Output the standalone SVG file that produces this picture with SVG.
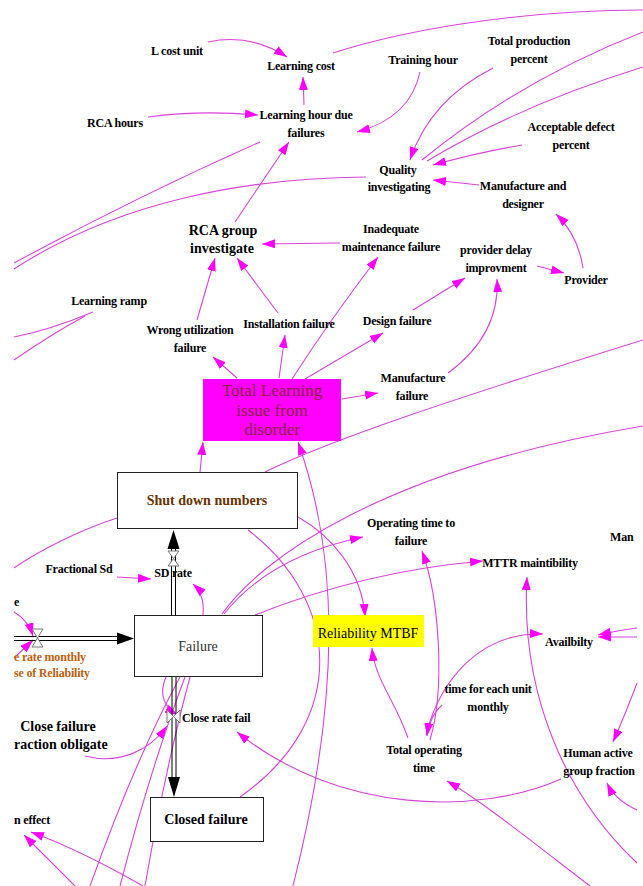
<svg xmlns="http://www.w3.org/2000/svg" width="643" height="886" viewBox="0 0 643 886">
  <defs>
    <marker id="ah" markerUnits="userSpaceOnUse" markerWidth="14" markerHeight="10" refX="13" refY="4.5" orient="auto">
      <path d="M0,0 L13,4.5 L0,9 Z" fill="#ff00ff"/>
    </marker>
    <style>
      .c { fill: none; stroke: #d844d8; stroke-width: 1.1; }
      .a { marker-end: url(#ah); }
      .t { font-family: "Liberation Serif", "Times New Roman", serif; font-weight: bold; font-size: 12px; letter-spacing: -0.2px; fill: #000; text-anchor: middle; }
      .t14 { font-size: 14px; letter-spacing: 0; }
      .st { text-anchor: start; }
      .box { fill: #fff; stroke: #222; stroke-width: 1; }
      .reg { font-family: "Liberation Serif", "Times New Roman", serif; font-weight: normal; text-anchor: middle; }
      .pipe { fill: none; stroke: #000; stroke-width: 1; }
      .valve { fill: #fff; stroke: #777; stroke-width: 1; }
      .orange { fill: #c06010; }
    </style>
  </defs>

  <!-- causal links -->
  <g id="connectors">
    <path class="c a" d="M208,42 Q250,33 287,57"/>
    <path class="c a" d="M304,105 L303,77"/>
    <path class="c a" d="M148,117 Q200,110 258,115"/>
    <path class="c" d="M333,53 C420,25 540,10 643,10"/>
    <path class="c a" d="M420,72 Q410,118 357,132"/>
    <path class="c a" d="M493,68 Q430,100 410,160"/>
    <path class="c" d="M422,160 Q520,80 643,32"/>
    <path class="c" d="M427,161 Q520,105 643,67"/>
    <path class="c a" d="M522,145 Q480,152 433,165"/>
    <path class="c a" d="M479,185 L433,180"/>
    <path class="c a" d="M583,268 Q578,235 556,214"/>
    <path class="c a" d="M537,266 L564,273"/>
    <path class="c" d="M366,177 C250,178 120,200 14,269"/>
    <path class="c" d="M260,142 Q140,195 14,263"/>
    <path class="c a" d="M235,222 L289,142"/>
    <path class="c" d="M93,312 Q50,330 14,337"/>
    <path class="c" d="M85,316 Q50,335 14,360"/>
    <path class="c a" d="M197,320 L215,258"/>
    <path class="c a" d="M278,313 L237,258"/>
    <path class="c a" d="M340,243 L262,244"/>
    <path class="c a" d="M237,378 L213,357"/>
    <path class="c a" d="M279,378 L285,335"/>
    <path class="c a" d="M292,379 Q330,320 378,257"/>
    <path class="c a" d="M305,379 L383,333"/>
    <path class="c a" d="M413,310 L465,278"/>
    <path class="c a" d="M448,373 Q500,335 497,279"/>
    <path class="c a" d="M342,399 L378,393"/>
    <path class="c a" d="M200,472 L203,442"/>
    <path class="c a" d="M293,886 C340,700 340,560 298,442"/>
    <path class="c" d="M265,472 C330,440 450,400 643,340"/>
    <path class="c a" d="M298,517 C330,535 362,570 365,617"/>
    <path class="c" d="M248,530 C340,600 350,720 240,797"/>
    <path class="c" d="M117,518 C80,530 40,550 14,568"/>
    <path class="c" d="M222,614 C260,560 380,470 643,426"/>
    <path class="c a" d="M224,614 C255,575 300,550 363,537"/>
    <path class="c a" d="M255,615 C300,597 380,570 483,561"/>
    <path class="c a" d="M203,615 Q205,595 193,584"/>
    <path class="c a" d="M117,577 L151,579"/>
    <path class="c a" d="M166,677 C158,695 165,708 178,715"/>
    <path class="c a" d="M85,756 C120,765 150,750 167,726"/>
    <path class="c" d="M180,677 Q135,760 90,886"/>
    <path class="c" d="M185,677 Q150,770 120,886"/>
    <path class="c" d="M190,677 Q165,770 145,886"/>
    <path class="c a" d="M75,886 L24,835"/>
    <path class="c a" d="M143,886 Q80,850 31,832"/>
    <path class="c a" d="M14,612 Q28,620 33,636"/>
    <path class="c a" d="M14,658 L33,640"/>
    <path class="c a" d="M561,779 C480,815 340,815 237,732"/>
    <path class="c a" d="M408,738 C395,700 375,680 372,648"/>
    <path class="c a" d="M430,740 C445,690 440,600 422,551"/>
    <path class="c a" d="M426,735 C440,680 480,632 543,634"/>
    <path class="c a" d="M442,705 Q430,715 427,736"/>
    <path class="c a" d="M637,863 C570,800 520,700 527,577"/>
    <path class="c a" d="M637,683 Q625,715 613,742"/>
    <path class="c a" d="M637,810 Q615,800 607,783"/>
    <path class="c a" d="M637,628 Q615,631 598,635"/>
    <path class="c a" d="M637,637 L598,637"/>
    <path class="c a" d="M590,886 C530,840 480,800 447,781"/>
  </g>

  <!-- material flows -->
  <g id="flows">
    <path class="pipe" d="M14,636.5 H120 M14,640.5 H120"/>
    <path d="M117,632.5 L134,638.5 L117,644.5 Z" fill="#000"/>
    <path class="valve" d="M32,629 L43,629 L32,647 L43,647 Z"/>

    <path class="pipe" d="M171.5,548 V615 M175.5,548 V615"/>
    <path d="M173.5,530 L179.5,549 L167.5,549 Z" fill="#000"/>
    <path class="valve" d="M168,551 L179,551 L168,566 L179,566 Z"/>

    <path class="pipe" d="M172,676 V780 M176,676 V780"/>
    <path d="M168,777 L180,777 L174,797 Z" fill="#000"/>
    <path class="valve" d="M167,710 L167,723 L180,710 L180,723 Z"/>
  </g>

  <!-- stocks and highlighted variables -->
  <g id="total-learning">
    <rect x="203" y="379" width="138" height="62" fill="#ff00ff"/>
    <text class="reg" font-size="17" fill="#8a2444"><tspan x="272" y="396">Total Learning</tspan><tspan x="272" y="416">issue from</tspan><tspan x="272" y="435">disorder</tspan></text>
  </g>
  <g id="shut-down-numbers">
    <rect class="box" x="117.5" y="472.5" width="180" height="56"/>
    <text class="t t14" x="207" y="505" style="fill:#663300">Shut down numbers</text>
  </g>
  <g id="failure">
    <rect class="box" x="134.5" y="615.5" width="128" height="61"/>
    <text class="reg" x="198" y="651" font-size="14" fill="#333">Failure</text>
  </g>
  <g id="reliability-mtbf">
    <rect x="313" y="615" width="111" height="32" fill="#ffff00"/>
    <text class="reg" x="368" y="638" font-size="14" fill="#000">Reliability MTBF</text>
  </g>
  <g id="closed-failure">
    <rect class="box" x="150.5" y="797.5" width="113" height="44"/>
    <text class="t t14" x="206" y="824">Closed failure</text>
  </g>

  <!-- auxiliary variables -->
  <g id="l-cost-unit"><text class="t" x="177" y="55">L cost unit</text></g>
  <g id="learning-cost"><text class="t" x="301" y="70">Learning cost</text></g>
  <g id="rca-hours"><text class="t" x="115" y="127">RCA hours</text></g>
  <g id="learning-hour"><text class="t"><tspan x="306" y="119">Learning hour due</tspan><tspan x="306" y="137">failures</tspan></text></g>
  <g id="training-hour"><text class="t" x="423" y="64">Training hour</text></g>
  <g id="total-production"><text class="t"><tspan x="529" y="45">Total production</tspan><tspan x="529" y="63">percent</tspan></text></g>
  <g id="acceptable-defect"><text class="t"><tspan x="571" y="131">Acceptable defect</tspan><tspan x="571" y="149">percent</tspan></text></g>
  <g id="quality-investigating"><text class="t"><tspan x="398" y="174">Quality</tspan><tspan x="399" y="191">investigating</tspan></text></g>
  <g id="manufacture-designer"><text class="t"><tspan x="523" y="190">Manufacture and</tspan><tspan x="523" y="208">designer</tspan></text></g>
  <g id="rca-group"><text class="t t14"><tspan x="223" y="235">RCA group</tspan><tspan x="222" y="253">investigate</tspan></text></g>
  <g id="inadequate-maintenance"><text class="t"><tspan x="391" y="233">Inadequate</tspan><tspan x="391" y="251">maintenance failure</tspan></text></g>
  <g id="provider-delay"><text class="t"><tspan x="496" y="254">provider delay</tspan><tspan x="496" y="272">improvment</tspan></text></g>
  <g id="provider"><text class="t" x="586" y="284">Provider</text></g>
  <g id="learning-ramp"><text class="t" x="109" y="305">Learning ramp</text></g>
  <g id="wrong-utilization"><text class="t"><tspan x="190" y="334">Wrong utilization</tspan><tspan x="190" y="352">failure</tspan></text></g>
  <g id="installation-failure"><text class="t" x="289" y="328">Installation failure</text></g>
  <g id="design-failure"><text class="t" x="397" y="325">Design failure</text></g>
  <g id="manufacture-failure"><text class="t"><tspan x="413" y="382">Manufacture</tspan><tspan x="412" y="400">failure</tspan></text></g>
  <g id="fractional-sd"><text class="t" x="79" y="573">Fractional Sd</text></g>
  <g id="sd-rate"><text class="t" x="173" y="577">SD rate</text></g>
  <g id="operating-time"><text class="t"><tspan x="411" y="527">Operating time to</tspan><tspan x="411" y="545">failure</tspan></text></g>
  <g id="mttr"><text class="t" x="530" y="567">MTTR maintibility</text></g>
  <g id="man"><text class="t st" x="610" y="541">Man</text></g>
  <g id="availbilty"><text class="t" x="569" y="646">Availbilty</text></g>
  <g id="rate-left"><text class="t st" x="14" y="606">e</text></g>
  <g id="rate-monthly"><text class="t st orange" style="fill:#c06010"><tspan x="14" y="661">e rate monthly</tspan><tspan x="14" y="677">se of Reliability</tspan></text></g>
  <g id="close-failure-fraction"><text class="t t14"><tspan x="58" y="731">Close failure</tspan><tspan x="14" y="749" text-anchor="start">raction obligate</tspan></text></g>
  <g id="close-rate-fail"><text class="t st" x="182" y="722">Close rate fail</text></g>
  <g id="time-each-unit"><text class="t"><tspan x="488" y="693">time for each unit</tspan><tspan x="488" y="711">monthly</tspan></text></g>
  <g id="total-operating-time"><text class="t"><tspan x="424" y="754">Total operating</tspan><tspan x="424" y="772">time</tspan></text></g>
  <g id="human-active"><text class="t"><tspan x="598" y="757">Human active</tspan><tspan x="599" y="775">group fraction</tspan></text></g>
  <g id="effect-left"><text class="t st" x="14" y="824">n effect</text></g>
</svg>
